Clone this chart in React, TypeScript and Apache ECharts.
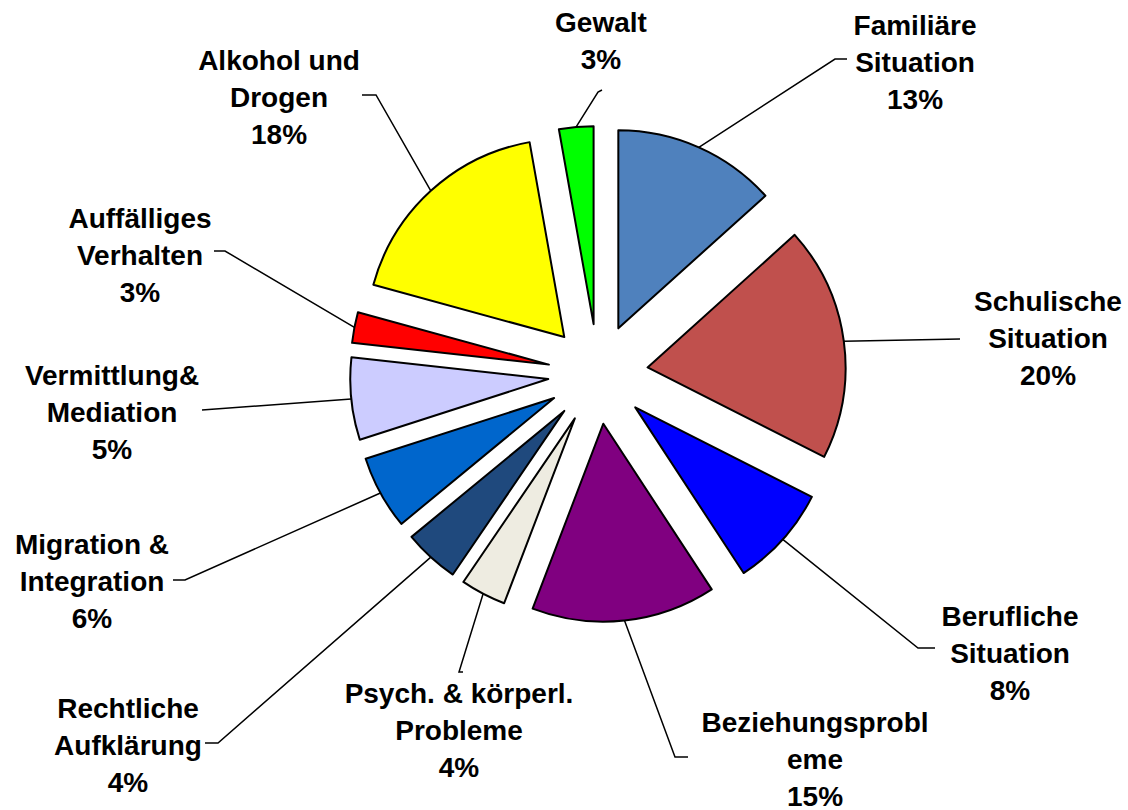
import React, { useEffect, useRef } from "react";
import * as echarts from "echarts";

// Categories clockwise from 12 o'clock
const categories = [
  "Familiäre Situation",
  "Schulische Situation",
  "Berufliche Situation",
  "Beziehungsprobleme",
  "Psych. & körperl. Probleme",
  "Rechtliche Aufklärung",
  "Migration & Integration",
  "Vermittlung& Mediation",
  "Auffälliges Verhalten",
  "Alkohol und Drogen",
  "Gewalt",
];
// Label text as wrapped in the picture
const labelTexts = [
  "Familiäre\nSituation",
  "Schulische\nSituation",
  "Berufliche\nSituation",
  "Beziehungsprobl\neme",
  "Psych. & körperl.\nProbleme",
  "Rechtliche\nAufklärung",
  "Migration &\nIntegration",
  "Vermittlung&\nMediation",
  "Auffälliges\nVerhalten",
  "Alkohol und\nDrogen",
  "Gewalt",
];
// Slice shares
const shares = [13.3, 19.1, 8.3, 15.0, 3.7, 4.5, 6.0, 6.7, 2.5, 17.9, 2.8];
// Percentages printed in the labels
const printedPct = ["13%", "20%", "8%", "15%", "4%", "4%", "6%", "5%", "3%", "18%", "3%"];
const colors = [
  "#4F81BD", "#C0504D", "#0000FF", "#800080", "#EEECE1", "#1F497D",
  "#0066CC", "#CCCCFF", "#FF0000", "#FFFF00", "#00FF00",
];

// Layout (pixels): label centres and leader bend/end points
const CX = 598, CY = 374, R = 198, OFFSET = 50;
const labelCenter = [
  [915, 62], [1048, 338], [1010, 653], [815, 759], [459, 730], [128, 745],
  [92, 581], [112, 412], [140, 255], [279, 97], [601, 41],
];
const leaderBend = [
  [835, 59], [960, 339], [918, 648], [675, 757], [459, 672], [218, 743],
  [185, 580], [202, 410], [225, 251], [376, 95], [598, 92],
];
const leaderEnd = [
  [847, 59], [960, 339], [935, 648], [688, 757], [463, 672], [205, 743],
  [173, 580], [202, 410], [214, 251], [362, 95], [602, 90],
];

export default function App() {
  const ref = useRef<HTMLDivElement>(null);
  useEffect(() => {
    if (!ref.current) return;
    const chart = echarts.init(ref.current, undefined, { renderer: "svg" });
    const total = shares.reduce((a, b) => a + b, 0);
    const midAngles: number[] = [];
    let acc = 0;
    shares.forEach((v) => {
      const a = (v / total) * Math.PI * 2;
      midAngles.push(acc + a / 2);
      acc += a;
    });
    const sliceData = categories.map((name, i) => ({
      name,
      value: shares[i],
      selected: true,
      itemStyle: { color: colors[i] },
    }));
    const labelData = categories.map((name, i) => ({
      name,
      value: shares[i],
    }));
    chart.setOption({
      animation: false,
      backgroundColor: "#fff",
      series: [
        {
          type: "pie",
          name: "slices",
          center: [CX, CY],
          radius: R,
          startAngle: 90,
          clockwise: true,
          selectedMode: "multiple",
          selectedOffset: OFFSET,
          avoidLabelOverlap: false,
          data: sliceData,
          itemStyle: { borderColor: "#000", borderWidth: 2 },
          select: { itemStyle: { borderColor: "#000", borderWidth: 2 } },
          emphasis: { disabled: true },
          label: { show: false },
          labelLine: { show: false },
          z: 3,
        },
        {
          type: "pie",
          name: "labels",
          center: [CX, CY],
          radius: R,
          startAngle: 90,
          clockwise: true,
          silent: true,
          selectedMode: false,
          avoidLabelOverlap: false,
          data: labelData,
          itemStyle: { color: "rgba(0,0,0,0)", borderWidth: 0 },
          emphasis: { disabled: true },
          z: 2,
          label: {
            show: true,
            position: "outside",
            formatter: (p: any) => labelTexts[p.dataIndex] + "\n" + printedPct[p.dataIndex],
            fontFamily: 'Arial, "Liberation Sans", sans-serif',
            fontWeight: "bold",
            fontSize: 28,
            lineHeight: 37,
            color: "#000",
            align: "center",
          },
          labelLine: {
            show: true,
            lineStyle: { color: "#000", width: 1.5 },
          },
          labelLayout: (p: any) => {
            const i = p.dataIndex;
            const th = midAngles[i];
            const sx = CX + (R + OFFSET) * Math.sin(th);
            const sy = CY - (R + OFFSET) * Math.cos(th);
            return {
              x: labelCenter[i][0],
              y: labelCenter[i][1],
              align: "center",
              verticalAlign: "middle",
              labelLinePoints: [[sx, sy], leaderBend[i], leaderEnd[i]],
            };
          },
        },
      ],
    });
    return () => chart.dispose();
  }, []);
  return (
    <div
      ref={ref}
      style={{ position: "fixed", left: 0, top: 0, width: 1128, height: 810 }}
    />
  );
}
